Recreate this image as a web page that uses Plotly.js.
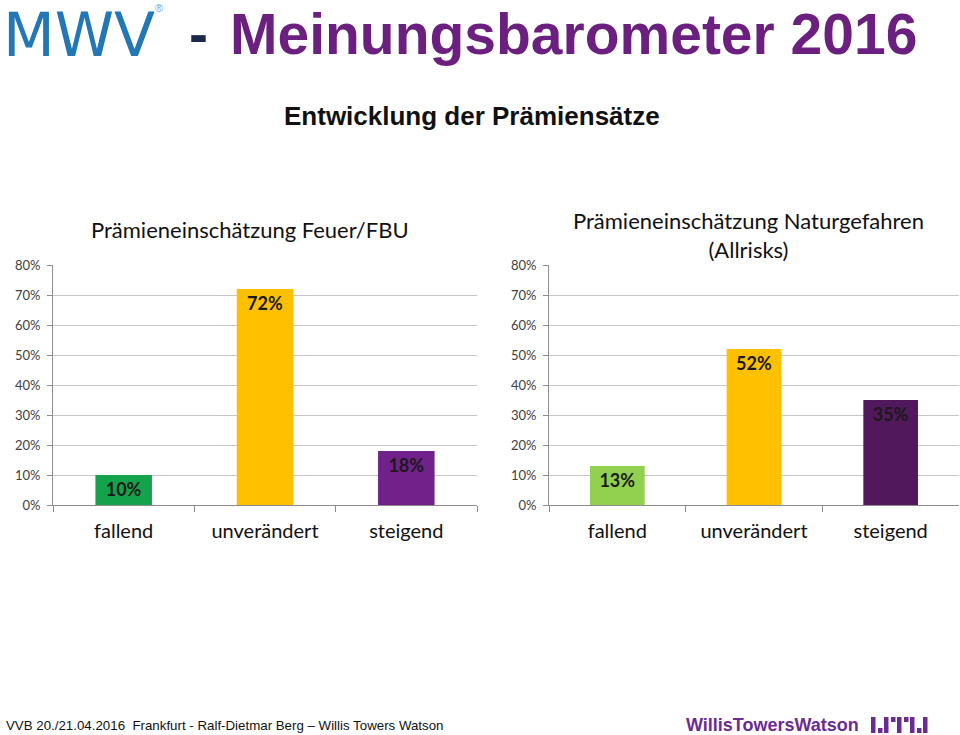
<!DOCTYPE html>
<html>
<head>
<meta charset="utf-8">
<script src="https://cdn.plot.ly/plotly-3.0.1.min.js"></script>
<style>
html,body{margin:0;padding:0;background:#fff;}
#chart{width:960px;height:735px;}
</style>
</head>
<body>
<div id="chart"></div>
<script>
// ---- data ----
const categories = ["fallend", "unverändert", "steigend"];
const feuerValues = [0.10, 0.72, 0.18];
const naturValues = [0.13, 0.52, 0.35];
const feuerColors = ["#14A24C", "#FFC000", "#70218A"];
const naturColors = ["#92D050", "#FFC000", "#51195C"];
const yTickVals = [0, 0.1, 0.2, 0.3, 0.4, 0.5, 0.6, 0.7, 0.8];
const feuerTitle = "Prämieneinschätzung Feuer/FBU";
const naturTitle = "Prämieneinschätzung Naturgefahren<br>(Allrisks)";

const W = 960, H = 735;
const px = x => x / W;
const py = y => 1 - y / H;

const labelFont = {family: "Lato, 'Open Sans', sans-serif", size: 18, color: "#1a1a1a", weight: 700};

function barTrace(vals, colors, xa, ya) {
  return {
    type: "bar", x: categories, y: vals, xaxis: xa, yaxis: ya,
    marker: {color: colors, line: {width: 0}},
    texttemplate: "%{y:.0%}", textposition: "inside", insidetextanchor: "end",
    textfont: labelFont, insidetextfont: labelFont, constraintext: "none",
    hoverinfo: "skip", showlegend: false
  };
}

const data = [
  barTrace(feuerValues, feuerColors, "x", "y"),
  barTrace(naturValues, naturColors, "x2", "y2")
];

function xAxis(d, anchor) {
  return {
    domain: d, anchor: anchor, type: "category",
    showline: true, linecolor: "#8C8C8C", linewidth: 1,
    ticks: "outside", tickson: "boundaries", ticklen: 6, tickcolor: "#8C8C8C",
    tickfont: {family: "Lato, 'Open Sans', sans-serif", size: 20, color: "#111"},
    ticklabelstandoff: 8, showgrid: false, fixedrange: true
  };
}
function yAxis(anchor) {
  return {
    domain: [py(505), py(265)], anchor: anchor, range: [0, 0.8],
    tickvals: yTickVals, tickformat: ".0%",
    showgrid: true, gridcolor: "#C6C6C6", gridwidth: 1,
    showline: true, linecolor: "#8C8C8C", linewidth: 1,
    ticks: "outside", ticklen: 5, tickcolor: "#8C8C8C",
    tickfont: {family: "Lato, 'Open Sans', sans-serif", size: 13, color: "#404040"},
    ticklabelstandoff: 4, zeroline: false, fixedrange: true
  };
}

// WTW logo glyph shapes
const glyph = [];
const bars = [[871,717,733],[878,728,733],[884,717,733],[891,717,722],[897,717,733],[904,717,722],[910,717,733],[917,728,733],[923,717,733]];
bars.forEach(b => glyph.push({type: "rect", xref: "paper", yref: "paper",
  x0: px(b[0]), x1: px(b[0] + 4.5), y0: py(b[2]), y1: py(b[1]),
  fillcolor: "#6B2C91", line: {width: 0}}));

const layout = {
  width: W, height: H,
  margin: {l: 0, r: 0, t: 0, b: 0},
  paper_bgcolor: "#fff", plot_bgcolor: "rgba(0,0,0,0)",
  bargap: 0.6,
  xaxis: xAxis([px(53), px(477)], "y"),
  yaxis: yAxis("x"),
  xaxis2: xAxis([px(549), px(959)], "y2"),
  yaxis2: yAxis("x2"),
  shapes: glyph,
  annotations: [
    {text: "MWV", xref: "paper", yref: "paper", x: px(1), y: py(35), xanchor: "left", yanchor: "middle",
     showarrow: false, font: {family: "'DejaVu Sans', sans-serif", size: 60, color: "#2377B5", weight: 400}},
    {text: "®", xref: "paper", yref: "paper", x: px(153), y: py(8), xanchor: "left", yanchor: "middle",
     showarrow: false, font: {family: "Arial, 'Liberation Sans', sans-serif", size: 11, color: "#6AA5CF"}},
    {text: "-", xref: "paper", yref: "paper", x: px(187), y: py(34), xanchor: "left", yanchor: "middle",
     showarrow: false, font: {family: "'Liberation Sans', Arial, sans-serif", size: 57, color: "#1B2A4A", weight: 700}},
    {text: "Meinungsbarometer 2016", xref: "paper", yref: "paper", x: px(228), y: py(34), xanchor: "left", yanchor: "middle",
     showarrow: false, font: {family: "'Liberation Sans', Arial, sans-serif", size: 57, color: "#6B1F7F", weight: 700}},
    {text: "Entwicklung der Prämiensätze", xref: "paper", yref: "paper", x: px(472), y: py(116), xanchor: "center", yanchor: "middle",
     showarrow: false, font: {family: "'Liberation Sans', Arial, sans-serif", size: 26, color: "#111", weight: 700}},
    {text: feuerTitle, xref: "paper", yref: "paper", x: px(250), y: py(229), xanchor: "center", yanchor: "middle",
     showarrow: false, font: {family: "Lato, 'Open Sans', sans-serif", size: 22, color: "#111"}},
    {text: naturTitle, xref: "paper", yref: "paper", x: px(748), y: py(235), xanchor: "center", yanchor: "middle",
     showarrow: false, font: {family: "Lato, 'Open Sans', sans-serif", size: 22, color: "#111"}},
    {text: "VVB 20./21.04.2016  Frankfurt - Ralf-Dietmar Berg – Willis Towers Watson", xref: "paper", yref: "paper",
     x: px(4), y: py(725), xanchor: "left", yanchor: "middle",
     showarrow: false, font: {family: "'Liberation Sans', Arial, sans-serif", size: 13.3, color: "#111"}},
    {text: "WillisTowersWatson", xref: "paper", yref: "paper", x: px(684), y: py(725), xanchor: "left", yanchor: "middle",
     showarrow: false, font: {family: "'Liberation Sans', Arial, sans-serif", size: 18, color: "#6B2C91", weight: 700}}
  ]
};

Plotly.newPlot("chart", data, layout, {displayModeBar: false, staticPlot: true});
</script>
</body>
</html>
